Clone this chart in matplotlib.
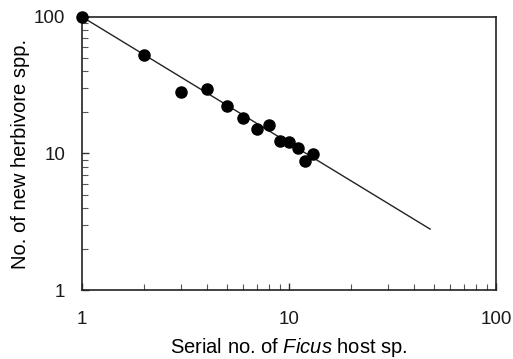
import matplotlib
matplotlib.use('Agg')
import matplotlib.pyplot as plt
import numpy as np

plt.rcParams['font.family'] = ['Liberation Sans', 'DejaVu Sans']
plt.rcParams['mathtext.fontset'] = 'custom'
plt.rcParams['mathtext.it'] = 'Liberation Sans:italic'
plt.rcParams['mathtext.rm'] = 'Liberation Sans'

# serial number of host fig species and new herbivore species added
host_no = [1, 2, 3, 4, 5, 6, 7, 8, 9, 10, 11, 12, 13]
new_spp = [100, 52.7, 28.2, 29.7, 22.3, 18.2, 15.1, 16.2, 12.4, 12.1, 11.0, 8.8, 9.9]

# fitted power law y = a * x^b
fit_a = 100.0
fit_b = -0.924
fit_xmax = 48

fig = plt.figure(figsize=(5.13, 3.59), dpi=100, facecolor='white')
ax = fig.add_axes([0.160, 0.192, 0.807, 0.761])

xs = np.logspace(0, np.log10(fit_xmax), 50)
ax.plot(xs, fit_a * xs ** fit_b, color='#222222', lw=1.0, zorder=2)
ax.plot(host_no, new_spp, 'o', color='black', ms=8, zorder=3, clip_on=False)

ax.set_xscale('log')
ax.set_yscale('log')
ax.set_xlim(1, 100)
ax.set_ylim(1, 100)

ax.set_xticks([1, 10, 100])
ax.set_xticklabels(['1', '10', '100'])
ax.set_yticks([1, 10, 100])
ax.set_yticklabels(['1', '10', '100'])

ax.tick_params(which='both', direction='in', top=False, right=False, labelsize=13.5)
ax.tick_params(which='major', length=5, width=1, colors='#333333', labelcolor='#1a1a1a')
ax.tick_params(which='minor', length=4, width=0.8, colors='#555555')
ax.tick_params(axis='x', which='major', pad=15)
ax.tick_params(axis='y', which='major', pad=12)

for sp in ax.spines.values():
    sp.set_linewidth(1.2)
    sp.set_color('#222222')

ax.set_xlabel(r'Serial no. of $\mathit{Ficus}$ host sp.', fontsize=14.5, labelpad=6)
ax.set_ylabel('No. of new herbivore spp.', fontsize=14.5, labelpad=3)

fig.savefig('out.png', dpi=100, facecolor='white')
